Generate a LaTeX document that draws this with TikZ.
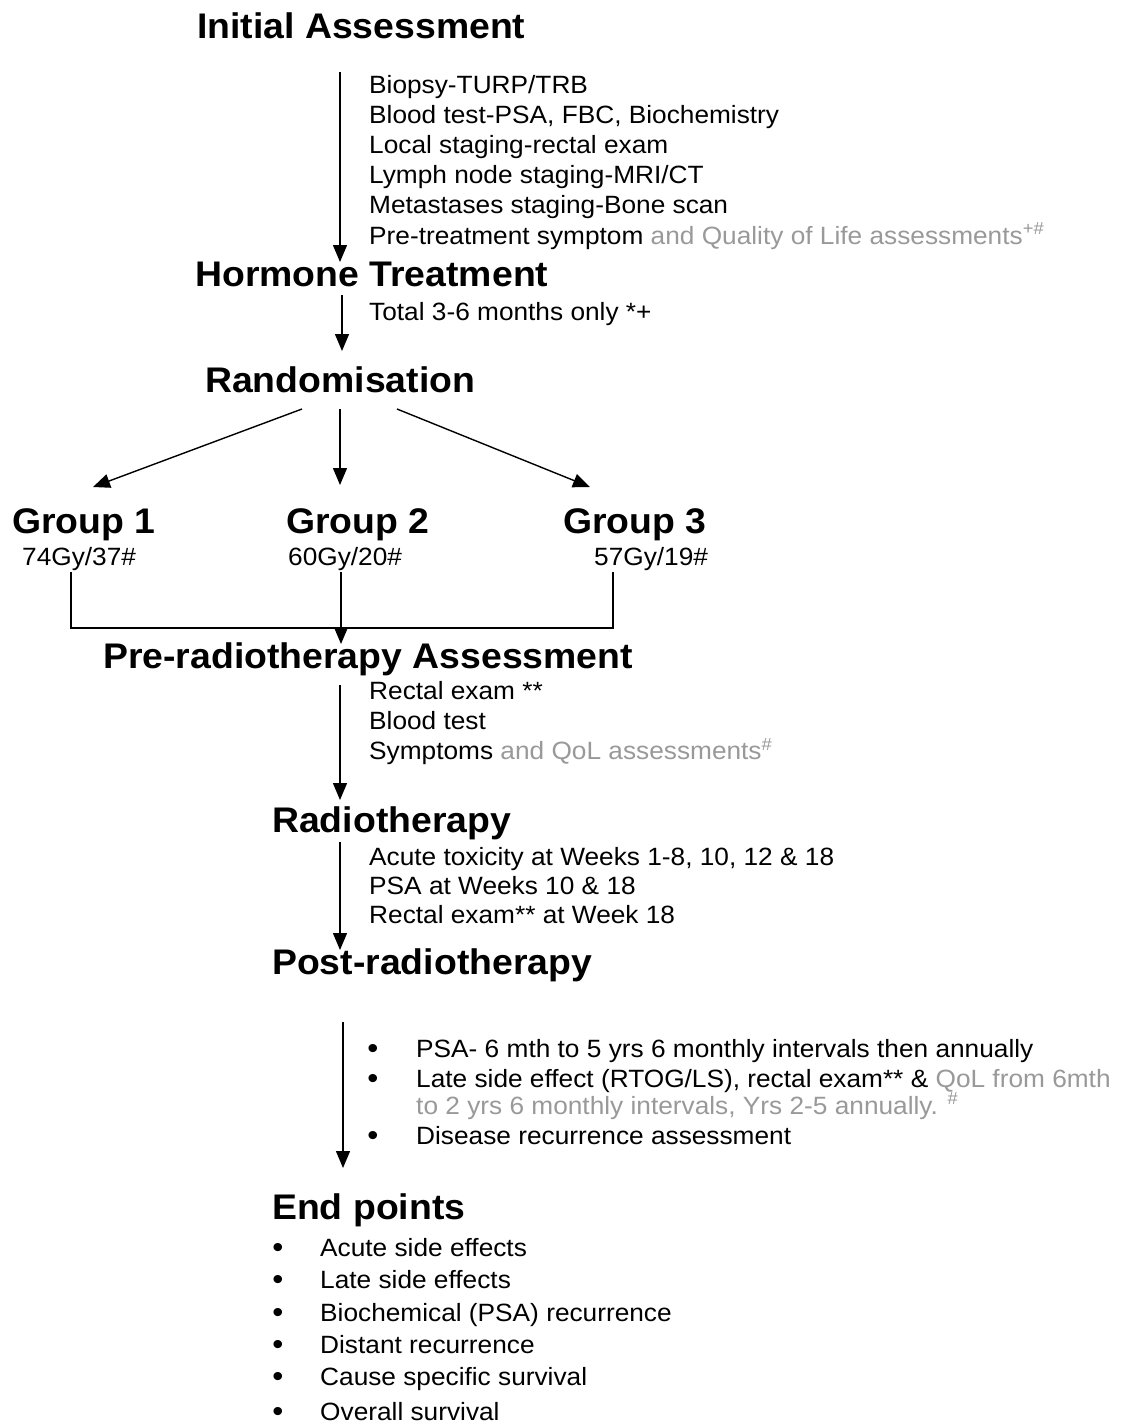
\documentclass[tikz,border=0pt]{standalone}
\usepackage{fontspec}
\setmainfont[FakeStretch=1.05]{Liberation Sans}
\usetikzlibrary{arrows.meta,positioning}
\definecolor{qolgrey}{gray}{0.6}

\begin{document}
\begin{tikzpicture}[x=1pt,y=-1pt,
  head/.style={anchor=base west,inner sep=0pt,font=\fontsize{35.6}{40}\selectfont\bfseries},
  item/.style={anchor=base west,inner sep=0pt,font=\fontsize{25}{29}\selectfont},
  dot/.style={anchor=base,inner sep=0pt,font=\fontsize{30}{29}\selectfont},
  flow/.style={line width=1.4pt,-{Triangle[length=17pt,width=14pt]}},
  link/.style={line width=1.4pt}]
\useasboundingbox (0,0) rectangle (1138,1425);
%\draw[red] (0,0) rectangle (1138,1425);
\node[head] (IA) at (197,38) {Initial Assessment};
\foreach \t [count=\i] in {Biopsy-TURP/TRB, {Blood test-PSA, FBC, Biochemistry},
    Local staging-rectal exam, Lymph node staging-MRI/CT, Metastases staging-Bone scan,
    {Pre-treatment symptom {\color{qolgrey} and Quality of Life assessments\textsuperscript{+\#}}}}
  \node[item] (ia\i) at (369,{62.8+30.2*\i}) {\t};
\node[head] (HT) at (195,286) {Hormone Treatment};
\node[item] (ht1) at (369,320) {Total 3-6 months only *+};
\node[head] (R) at (205,392) {Randomisation};

\node[head] (G1) at (12,533) {Group 1};
\node[head] (G2) at (286,533) {Group 2};
\node[head] (G3) at (563,533) {Group 3};
\node[item] (d1) at (22,565) {74Gy/37\#};
\node[item] (d2) at (288,565) {60Gy/20\#};
\node[item] (d3) at (594,565) {57Gy/19\#};

\node[head] (PA) at (103,668) {Pre-radiotherapy Assessment};
\foreach \t [count=\i] in {Rectal exam **, Blood test,
    {Symptoms {\color{qolgrey} and QoL assessments\textsuperscript{\#}}}}
  \node[item] (pa\i) at (369,{669+30.3*\i}) {\t};

\node[head] (RT) at (272,832) {Radiotherapy};
\foreach \t [count=\i] in {{Acute toxicity at Weeks 1-8, 10, 12 \& 18},
    PSA at Weeks 10 \& 18, Rectal exam** at Week 18}
  \node[item] (rt\i) at (369,{836+29*\i}) {\t};

\node[head] (PR) at (272,974) {Post-radiotherapy};
\node[dot] (b1) at (373,1058) {\textbullet};
\node[item] (pr1) at (416,1057) {PSA- 6 mth to 5 yrs 6 monthly intervals then annually};
\node[dot] (b2) at (373,1088) {\textbullet};
\node[item] (pr2) at (416,1087) {Late side effect (RTOG/LS), rectal exam** \& {\color{qolgrey}QoL from 6mth}};
\node[item] (pr3) at (416,1114) {\color{qolgrey}to 2 yrs 6 monthly intervals, Yrs 2-5 annually. \textsuperscript{\#}};
\node[dot] (b3) at (373,1145) {\textbullet};
\node[item] (pr4) at (416,1144) {Disease recurrence assessment};

\node[head] (EP) at (272,1219) {End points};
\foreach \y/\t [count=\i] in {1256/Acute side effects, 1288/Late side effects,
    1321/Biochemical (PSA) recurrence, 1353/Distant recurrence,
    1385/Cause specific survival, 1420/Overall survival}{
  \node[dot] (e\i) at (278,\y+1) {\textbullet};
  \node[item] (ep\i) at (320,\y) {\t};
}

\coordinate (s1) at (340,72);   \coordinate (t1) at (340,262);
\coordinate (s2) at (342,295);  \coordinate (t2) at (342,351);
\coordinate (rl) at (302,409);  \coordinate (tl) at (93,487);
\coordinate (rm) at (340,409);  \coordinate (tm) at (340,485);
\coordinate (rr) at (397,409);  \coordinate (tr) at (590,487);
\coordinate (c1) at (71,572);   \coordinate (c3) at (613,572);
\coordinate (c2) at (341,572);  \coordinate (t3) at (341,644);
\coordinate (s4) at (340,685);  \coordinate (t4) at (340,800);
\coordinate (s5) at (340,842);  \coordinate (t5) at (340,950);
\coordinate (s6) at (343,1022); \coordinate (t6) at (343,1168);

\draw[flow] (s1) -- (t1);
\draw[flow] (s2) -- (t2);
\draw[flow] (rl) -- (tl);
\draw[flow] (rm) -- (tm);
\draw[flow] (rr) -- (tr);
\draw[link] (c1) |- (c3 |- 0,628) -- (c3);
\draw[flow] (c2) -- (t3);
\draw[flow] (s4) -- (t4);
\draw[flow] (s5) -- (t5);
\draw[flow] (s6) -- (t6);
\end{tikzpicture}
\end{document}
